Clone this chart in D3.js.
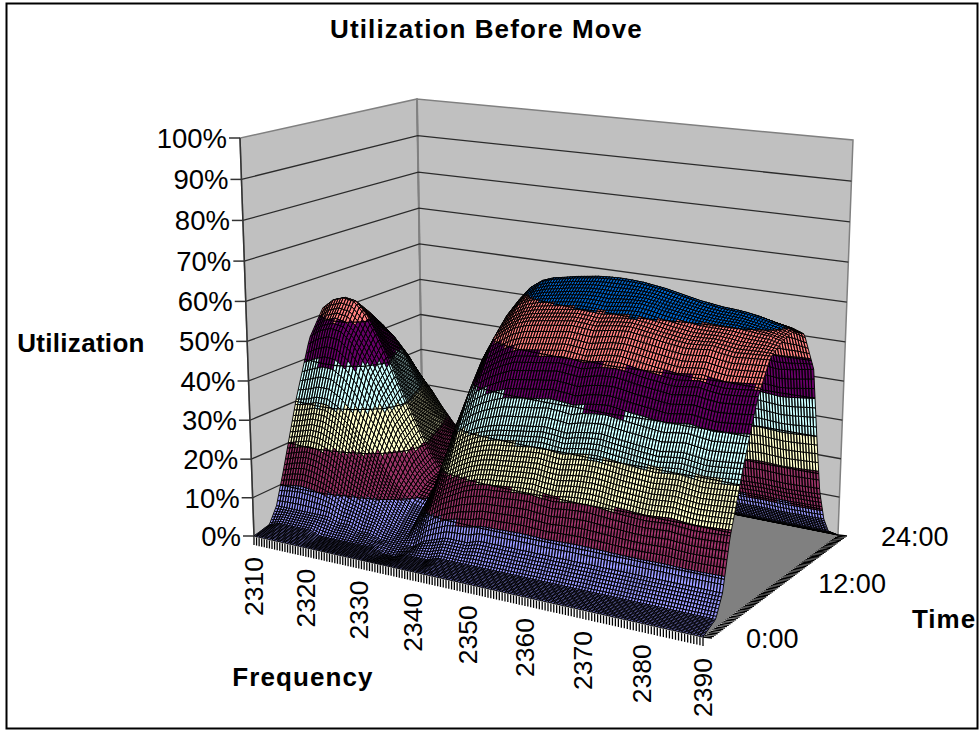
<!DOCTYPE html>
<html><head><meta charset="utf-8">
<script src="https://cdn.jsdelivr.net/npm/d3@7"></script>
<style>html,body{margin:0;padding:0;background:#fff}svg{display:block}text{font-family:"Liberation Sans",Arial,sans-serif;fill:#000}</style>
</head><body><svg id="c" width="979" height="731"></svg>
<script>
// Values estimated by eye from the reference. The original grid is far denser than can be read,
// so these are a coarse sample; the fine wire mesh is a rendering subdivision of it.
const title = "Utilization Before Move";
const frequencyTicks = [2310,2320,2330,2340,2350,2360,2370,2380,2390];
const timeTickHours = [0,12,24];
const timeTickLabels = ["0:00","12:00","24:00"];
const frequencies = d3.range(2310,2391,2);
const hours = [0,2,3,4,6,8,10,12,14,16,18,19,20,21,22,24];
const bandColors = ["#9999ff","#993366","#ffffcc","#ccffff","#660066","#ff8080","#0066cc","#c0c0c0"];
const u00 = [0,0,0,0,0,0,0,0,0,0,0,0,0,0,0,0,0,0,0,0,0,0,0,0,0,0,0,0,0,0,0,0,0,0,0,0,0,0,0,0,0];
const u02 = [1,2,2,2,2,1,1,1,1,1,1,0,0,1,1,1,2,2,2,2,2,2,2,2,2,2,2,2,2,2,2,2,2,2,2,2,2,2,2,2,2];
const u03 = [5,5,5,5,5,5,4,4,3,3,2,2,2,2,4,5,6,6,6,7,7,7,7,7,7,7,7,7,7,7,7,7,7,7,7,7,7,7,7,7,7];
const u04 = [13,14,14.5,14,13,11.5,9.5,8.5,7.5,6.5,5,4,4,7,11.5,14,15.5,17,18,18.5,18.7,19,19.3,19.4,19,18.8,19.2,19.5,19.6,19.4,19.1,18.9,18.7,18.6,18.8,19,18.7,18.5,18.6,18.8,19];
const u06 = [30.5,31,32,32,30.5,28,24.5,21.5,18,14.5,11.5,9,8.5,14,22,27.5,30,31.5,32.5,33.2,33.6,34,34.4,34.8,34.5,34.2,34.9,35.3,35.5,35.1,34.7,34.4,34.1,33.8,34.2,34.5,34.1,33.7,33.9,34.2,34.5];
const u08 = [45,47,48,47.5,45,41,36,31,26,21,16,12.5,12,19.5,30.5,38,42,44,45.5,46.8,47.2,47.6,48,48.4,48.2,47.8,48.5,49,49.2,48.8,48.3,47.9,47.5,47.2,47.6,47.9,47.4,47.1,47.3,47.6,48];
const u10 = [52,54.5,55.5,55,52,47,41.5,35,29,23.5,18,14,14.5,23,35,45,50.5,52.5,54.5,55.5,56,56.4,56.8,57.2,57,56.7,57.2,57.6,57.8,57.4,57,56.5,56.1,55.8,56,56.3,55.8,55.4,55.6,55.8,56];
const u12 = [47.5,50.5,51,50.5,47,42,36.5,30.5,25,19.5,15,12.5,14,26,39,49,55,58,59.5,60.3,60.8,61.3,61.7,62,62,61.8,62.2,62.5,62.6,62.2,61.6,61.2,60.8,60.4,60.2,60.1,60.1,59.8,59.5,59.3,58.5];
const u14 = [43,45,46,45.5,43,38.5,32.5,26.5,21,16.5,13,11.5,13.5,26,42.5,52,58,61.5,63.5,64.5,65,65.6,66,66.4,66.6,66.7,66.6,66.4,66,65.6,65,64.4,63.8,63.4,63,62.8,62.5,62,61.3,60.5,59.5];
const u16 = [36.5,39,39.5,39,36.5,32,27,22,18,14.5,11.5,10.5,12.5,23,37,47,53,56.5,59,60.3,61,61.4,61.8,62.2,62.4,62.6,62.7,62.7,62.4,62,61.5,61,60.6,60.4,60.2,60.1,59.8,59.5,59,58.5,57.5];
const u18 = [29,31,32,31,28.5,25.5,21.5,18,14.5,12,9.5,8.5,9.5,16,26,34,39.5,43,45,46,47,47.3,47.5,47.8,48,48.2,48.4,48.4,48.1,47.8,47.5,47,46.6,46.2,46.5,46.8,46.5,46.2,46.5,47,47.5];
const u19 = [21.5,23,23.5,23,21.5,19.5,16.5,13.5,11.5,9.5,7.5,6.5,7,11,17.5,22.5,26,28,29.2,29.6,30.3,30.6,30.8,31,31.2,31.3,31.4,31.4,31.2,31,30.8,30.5,30.2,30.3,30.5,30.7,30.5,30.3,30.4,30.6,30.8];
const u20 = [12.5,13,13.5,13.5,12.5,11.5,9.5,8.5,6.5,5.5,4.5,4,4,6.5,9,11.5,13,13.8,14.3,14.6,15,15.2,15.4,15.5,15.6,15.7,15.7,15.6,15.5,15.3,15.1,14.9,14.8,14.9,15,15.1,15,14.9,15,15.1,15.2];
const u21 = [6,6.5,6.5,6.5,6,5.5,5,4,3.5,3,2.5,2,2,3,4.5,5.5,6,6.5,6.8,7,7.2,7.2,7.3,7.3,7.4,7.4,7.4,7.3,7.3,7.2,7.2,7.1,7,7,7.1,7.1,7,7,7.1,7.1,7.2];
const u22 = [3,3,3,3,3,3,2,2,2,1,1,1,1,1,2,3,3,3,3,3,3,3,3,3,3,3,3,3,3,3,3,3,3,3,3,3,3,3,3,3,3];
const u24 = [0,0,0,0,0,0,0,0,0,0,0,0,0,0,0,0,0,0,0,0,0,0,0,0,0,0,0,0,0,0,0,0,0,0,0,0,0,0,0,0,0];
const utilization = [u00,u02,u03,u04,u06,u08,u10,u12,u14,u16,u18,u19,u20,u21,u22,u24];

// camera frame: [front-left, front-right, back-right, back-left]
const floorQuad = [[254,536],[703,637],[838,535],[423,452]];
const topQuad = [[240,138],[715,187],[853,140],[417,99]];
const perspectiveK = 0.957;
const meshFreqStep = 0.5, meshTimeStep = 0.3;

const svg = d3.select("#c");
const fS = d3.scaleLinear().domain([2310,2390]).range([0,1]);
const tS = d3.scaleLinear().domain([0,24]).range([0,1]);
const uS = d3.scaleLinear().domain([0,100]).range([0,1]);
function homography(q){
  const [[x0,y0],[x1,y1],[x2,y2],[x3,y3]] = q;
  const dx1=x1-x2,dx2=x3-x2,dx3=x0-x1+x2-x3,dy1=y1-y2,dy2=y3-y2,dy3=y0-y1+y2-y3;
  const den=dx1*dy2-dx2*dy1, g=(dx3*dy2-dx2*dy3)/den, h=(dx1*dy3-dx3*dy1)/den;
  const a=x1-x0+g*x1,b=x3-x0+h*x3,d=y1-y0+g*y1,e=y3-y0+h*y3;
  return (s,v)=>{const w=g*s+h*v+1;return [(a*s+b*v+x0)/w,(d*s+e*v+y0)/w];};
}
const hFloor=homography(floorQuad), hTop=homography(topQuad);
function project(f,t,u){
  const s=fS(f),v=tS(t),z=uS(u);
  const p0=hFloor(s,v),p1=hTop(s,v);
  const w0=1-z,w1=perspectiveK*z,w=w0+w1;
  return [(p0[0]*w0+p1[0]*w1)/w,(p0[1]*w0+p1[1]*w1)/w];
}
const line=d3.line();
const poly=(pts,fill,stroke,sw,dash)=>svg.append("path").attr("d",line(pts)+"Z").attr("fill",fill).attr("stroke",stroke||"none").attr("stroke-width",sw||0).attr("stroke-dasharray",dash||null);
poly([project(2310,0,0),project(2310,24,0),project(2310,24,100),project(2310,0,100)],"#c0c0c0","#808080",1.5);
poly([project(2310,24,0),project(2390,24,0),project(2390,24,100),project(2310,24,100)],"#c0c0c0","#808080",1.5);
poly([project(2310,0,0),project(2390,0,0),project(2390,24,0),project(2310,24,0)],"#808080");
svg.append("path").attr("d",line([project(2310,24,0),project(2390,24,0)])).attr("stroke","#666").attr("stroke-width",1.5).attr("stroke-dasharray","5 3").attr("fill","none");
svg.append("path").attr("d",line([project(2310,24,0),project(2310,24,100)])).attr("stroke","#808080").attr("stroke-width",2).attr("fill","none");
const yTicks=uS.ticks(10);
yTicks.forEach(u=>{
  if(u>0&&u<100) svg.append("path").attr("d",line([project(2310,0,u),project(2310,24,u),project(2390,24,u)])).attr("fill","none").attr("stroke","#2b2b2b").attr("stroke-width",1.3);
  const p=project(2310,0,u);
  svg.append("path").attr("d",line([[p[0]-11,p[1]],p])).attr("stroke","#333").attr("stroke-width",1.5);
  svg.append("text").attr("x",p[0]-13).attr("y",p[1]+10).attr("text-anchor","end").attr("font-size",27.5).text(u+"%");
});
svg.append("path").attr("d",line([project(2310,0,0),project(2310,0,100)])).attr("stroke","#333").attr("stroke-width",1.5).attr("fill","none");

// axis combs
const fMesh=d3.range(2310,2390+1e-6,meshFreqStep), tComb=d3.range(0,24+1e-6,meshTimeStep);
fMesh.forEach(f=>{const p=project(f,0,0);svg.append("line").attr("x1",p[0]).attr("y1",p[1]).attr("x2",p[0]).attr("y2",p[1]+9).attr("stroke","#000").attr("stroke-width",1.3);});
tComb.forEach(t=>{const p=project(2390,t,0);svg.append("line").attr("x1",p[0]).attr("y1",p[1]).attr("x2",p[0]+9).attr("y2",p[1]+1).attr("stroke","#000").attr("stroke-width",1.3);});
svg.append("path").attr("d",line([project(2310,0,0),project(2390,0,0)])).attr("stroke","#aaa").attr("stroke-width",2).attr("fill","none");

// mesh rows are tighter where the surface climbs from the floor, as in the reference
const tMesh=[...d3.range(0,6,meshTimeStep/2),...d3.range(6,18,meshTimeStep),...d3.range(18,24+1e-6,meshTimeStep/2)];
// value lookup between read values, used only to subdivide the drawn mesh
const fIdx=d3.scaleLinear().domain([2310,2390]).range([0,frequencies.length-1]);
function val(f,t){
  let r=Math.min(hours.length-2,Math.max(0,d3.bisectRight(hours,t)-1));
  const rt=(t-hours[r])/(hours[r+1]-hours[r]);
  const cf=fIdx(f); const c=Math.min(frequencies.length-2,Math.floor(cf)), ct=cf-c;
  const a=utilization[r][c]*(1-ct)+utilization[r][c+1]*ct, b=utilization[r+1][c]*(1-ct)+utilization[r+1][c+1]*ct;
  return a*(1-rt)+b*rt;
}
const gs=svg.append("g");
const band=u=>Math.max(0,Math.min(bandColors.length-1,Math.floor(u/10)));
for(let j=tMesh.length-2;j>=0;j--){
  const t0=tMesh[j],t1=tMesh[j+1];
  let cur=-1,d="",cd="";
  const flush=()=>{ if(d) gs.append("path").attr("d",d).attr("fill",bandColors[cur]).attr("stroke","#000").attr("stroke-width",0.95);
     if(cd) gs.append("path").attr("d",cd).attr("fill","none").attr("stroke","#000").attr("stroke-width",1.2); d="";cd="";};
  for(let i=0;i<fMesh.length-1;i++){
    const f0=fMesh[i],f1=fMesh[i+1];
    const c=[[f0,t0],[f1,t0],[f1,t1],[f0,t1]].map(([f,t])=>[f,t,val(f,t)]);
    const b=band(d3.mean(c,x=>x[2]));
    if(b!==cur){flush();cur=b;}
    d+=line(c.map(x=>project(x[0],x[1],x[2])))+"Z";
    for(let lv=10;lv<=70;lv+=10){
      const pts=[];
      for(let k=0;k<4;k++){const A=c[k],B=c[(k+1)%4];
        if((A[2]<lv)!==(B[2]<lv)){const q=(lv-A[2])/(B[2]-A[2]);pts.push(project(A[0]+q*(B[0]-A[0]),A[1]+q*(B[1]-A[1]),lv));}}
      if(pts.length>=2) cd+=line(pts.slice(0,2));
    }
  }
  flush();
}
// labels
frequencyTicks.forEach(f=>{const p=project(f,0,0);
  svg.append("text").attr("transform",`translate(${p[0]+9},${p[1]+21}) rotate(-90)`).attr("text-anchor","end").attr("font-size",26.5).text(f);});
timeTickHours.forEach((h,i)=>{const p=project(2390,h,0);
  svg.append("text").attr("x",p[0]+(i==0?43:i==1?44:43)).attr("y",p[1]+(i==0?11:i==1?10:11)).attr("font-size",27).text(timeTickLabels[i]);});
const bold=(x,y,s,ls)=>svg.append("text").attr("x",x).attr("y",y).attr("text-anchor","middle").attr("font-size",26).attr("font-weight","bold").attr("letter-spacing",ls).text(s);
bold(486.5,38,title,1.1);bold(81,352,"Utilization",0.3);bold(303,686,"Frequency",1.1);bold(944,628,"Time",1);
svg.append("rect").attr("x",6.5).attr("y",3.5).attr("width",971).attr("height",725).attr("fill","none").attr("stroke","#000").attr("stroke-width",2);
</script></body></html>
